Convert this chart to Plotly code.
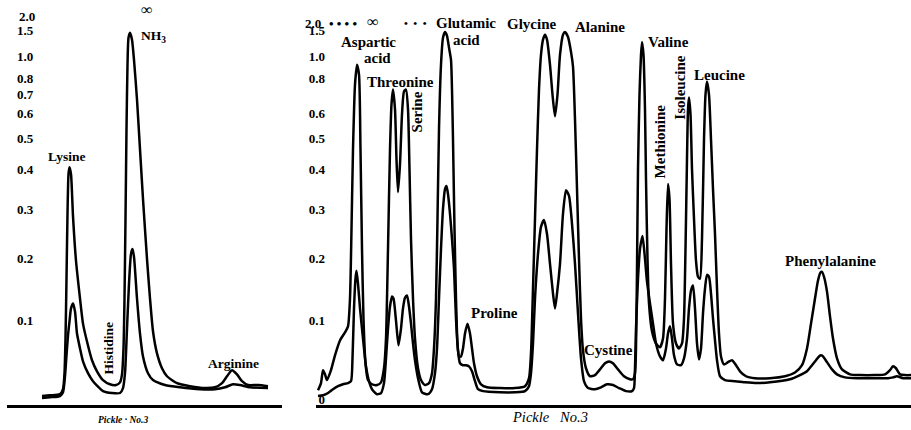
import numpy as np
import plotly.graph_objects as go

# Recorder traces: (elution position, % transmittance)
left_upper = [(42,99.2),(50,99.0),(60,98.7),(63,97.4),(64.5,93.2),(65.5,84.1),(66.5,68.4),(67.5,51.4),(68.5,41.0),(69.5,39.2),(71,41.0),(73,52.0),(76,63.7),(80,73.6),(83,80.2),(87,84.9),(92,89.8),(97,92.7),(103,95.0),(110,96.1),(116,96.3),(120,95.6),(122,93.5),(123.5,86.7),(124.5,73.6),(125.5,52.7),(126.5,29.2),(127.5,12.3),(128.5,5.2),(130,3.9),(132,5.7),(134,11.0),(137,21.4),(140,34.5),(143,47.5),(147,63.2),(150,73.6),(153,82.2),(157,88.0),(162,91.9),(167,94.0),(177,95.8),(190,96.6),(205,97.1),(215,96.9),(222,95.8),(227,94.0),(232,92.4),(237,93.5),(242,95.3),(248,96.3),(258,96.3),(268,96.6)]

left_lower = [(42,99.7),(50,99.5),(60,99.2),(63,98.2),(65,94.0),(66.5,88.5),(68,83.3),(69.5,79.6),(71,76.2),(73,74.9),(75,77.0),(77,82.8),(80,86.7),(83,90.1),(88,93.2),(93,95.3),(103,97.9),(112,98.4),(120,98.4),(123,97.1),(125,93.2),(127,81.5),(129,69.7),(131,61.9),(132.5,60.6),(134,62.7),(137,73.6),(140,82.8),(143,88.8),(148,93.2),(153,95.0),(165,96.3),(180,96.9),(200,97.4),(215,97.4),(225,96.9),(233,96.1),(240,96.3),(250,96.9),(268,97.1)]

right_upper = [(318,97.7),(321,95.8),(323,92.4),(325,93.5),(327,95.0),(331,92.4),(335,88.5),(340,84.6),(345,82.5),(348,80.9),(350,73.6),(351.5,55.4),(353,34.5),(355,17.5),(357,12.3),(359,14.9),(360.5,34.5),(362,60.6),(363.5,78.9),(365.5,90.6),(368,95.0),(372,96.1),(377,96.3),(381,95.6),(384,91.9),(386,84.1),(388,60.6),(390,34.5),(391.5,22.7),(393,18.8),(395,24.0),(396.5,37.1),(398,45.7),(400,38.4),(402,25.3),(404,19.3),(406,18.8),(408,24.0),(409.5,39.7),(411,58.0),(413,73.6),(415,84.1),(418,91.9),(421,95.0),(425,96.3),(429,95.8),(432,93.2),(434,86.7),(436,73.6),(437.5,52.7),(439,29.2),(441,12.3),(443,5.2),(445,3.7),(447,4.7),(449,7.8),(451,11.0),(452,18.8),(453,31.9),(454.5,55.4),(456,73.6),(457.5,85.4),(459,88.8),(461,88.8),(463,86.7),(465,82.8),(467.5,80.2),(470,82.8),(472,86.7),(474,90.6),(477,94.0),(481,96.1),(487,96.9),(500,97.1),(515,97.1),(525,96.6),(529,94.5),(531,88.0),(533,71.0),(535,52.7),(537,34.5),(539,18.8),(541,9.7),(543,5.7),(545,4.4),(547,5.7),(550,12.3),(552.5,20.1),(555,25.8),(557.5,20.1),(560,9.7),(563,4.4),(565,3.7),(568,5.0),(571,8.9),(573,12.8),(575,26.6),(577,44.9),(579,63.2),(581,78.9),(583,87.2),(586,91.9),(590,94.0),(595,93.7),(600,92.2),(605,90.6),(609,90.1),(613,90.6),(618,92.2),(624,94.0),(630,94.8),(633,94.8),(635,93.2),(636,86.7),(637,65.8),(638,39.7),(639.5,20.1),(641,9.7),(642,6.3),(643.5,9.7),(645,24.0),(646,42.3),(647.5,63.2),(649,74.9),(652,82.2),(656,85.4),(660,86.4),(663,84.1),(665,73.6),(666.5,55.4),(668,43.6),(669.5,47.5),(671,64.5),(673,80.2),(676,85.4),(679,86.7),(682,85.4),(684,78.9),(685.5,60.6),(687,37.1),(688,24.0),(689,20.9),(690.5,25.3),(692,39.7),(694,52.7),(696,63.7),(698,67.9),(700,68.4),(702,58.0),(704,31.9),(705.5,20.1),(707,16.7),(709,20.1),(711,31.9),(713,44.9),(715,56.7),(717,71.0),(719,82.8),(721,88.8),(724,90.9),(728,90.3),(732,89.8),(736,91.1),(740,92.7),(746,94.0),(755,94.5),(770,94.5),(785,94.0),(795,93.0),(802,91.1),(807,86.7),(811,80.2),(815,73.6),(818,68.9),(820.5,66.8),(822,66.6),(824,67.9),(827,71.8),(830,78.3),(833,84.1),(837,89.3),(842,92.2),(850,93.5),(860,93.7),(875,93.7),(885,93.5),(890,92.4),(893,91.4),(896,91.9),(900,93.5),(905,93.7),(911,93.7)]

right_lower = [(318,99.2),(323,99.0),(328,98.4),(333,97.4),(338,96.6),(343,96.1),(348,95.8),(351,95.3),(352.5,89.3),(354,76.2),(355.5,68.4),(356.5,66.3),(358,69.7),(360,76.2),(362,81.5),(364,86.7),(366,91.4),(369,95.3),(372,97.4),(377,98.7),(381,98.4),(384,95.8),(386,89.3),(388,81.5),(390,75.7),(392,73.1),(393.5,73.6),(396,79.4),(398.5,85.9),(401,81.5),(403,76.2),(405,73.4),(407,72.8),(409,75.7),(411,80.2),(413,85.4),(415,89.8),(418,94.5),(422,98.2),(428,98.7),(432,97.4),(435,93.2),(437,86.7),(439,73.6),(441,60.6),(443,50.1),(445,44.9),(446.5,44.1),(448,46.2),(450,51.4),(452,58.0),(454,65.8),(456,78.9),(458,87.2),(460,90.6),(463,91.1),(466,91.1),(469,91.4),(472,92.7),(475,95.3),(478,97.4),(483,97.9),(500,98.2),(515,98.2),(525,97.9),(529,96.6),(531,93.2),(533,85.4),(535,73.6),(538,61.9),(541,54.8),(544,53.0),(547,56.7),(550,64.5),(553,72.3),(555,76.2),(557,72.3),(560,64.5),(563,51.4),(566,45.2),(569,46.7),(572,54.0),(575,64.5),(578,77.5),(581,89.3),(584,95.3),(588,97.1),(595,97.4),(601,96.9),(607,96.1),(613,96.3),(619,97.1),(626,97.9),(632,97.9),(634,97.1),(635,91.9),(636,81.5),(638,68.4),(640,60.6),(642.5,57.2),(645,63.2),(647,69.2),(650,74.9),(653,80.2),(656,85.4),(660,88.8),(663,89.8),(666,86.7),(668,82.8),(670,80.9),(672,84.1),(674,88.5),(677,90.9),(681,91.1),(684,89.3),(687,84.1),(689,76.2),(691,71.5),(693,70.2),(695,76.2),(697,85.4),(699,89.6),(701,86.7),(703,77.5),(705,71.0),(707,67.4),(709,67.9),(711,72.3),(713,78.9),(715,84.6),(717,89.8),(720,94.0),(725,95.0),(735,95.3),(745,95.6),(757,95.8),(770,95.6),(790,94.8),(800,93.7),(807,92.7),(812,91.1),(816,89.8),(819,88.8),(821,88.5),(823,88.8),(827,90.3),(832,92.2),(837,93.5),(845,94.3),(857,94.5),(875,94.5),(888,94.5),(893,94.3),(897,94.0),(903,94.5),(911,94.5)]

# Optical-density tick labels (recorder scale is linear in transmittance)
left_od_ticks = [0.1, 0.2, 0.3, 0.4, 0.5, 0.6, 0.7, 0.8, 1.0, 1.5]
right_od_ticks = [0, 0.1, 0.2, 0.3, 0.4, 0.5, 0.6, 0.8, 1.0, 1.5]
top_od_label = "2.0"

# Peak labels: (text, elution position, % transmittance, angle)
left_labels = [("Lysine", 67, 36.3, 0), ("NH<sub>3</sub>", 153, 5.0, 0),
               ("Histidine", 108, 86.7, -90), ("Arginine", 233, 90.6, 0)]
right_labels = [("Aspartic", 368, 6.3, 0), ("acid", 377, 10.6, 0),
                ("Threonine", 400, 16.7, 0), ("Serine", 417, 24.8, -90),
                ("Glutamic", 466, 1.4, 0), ("acid", 466, 5.7, 0),
                ("Glycine", 532, 1.6, 0), ("Alanine", 600, 2.4, 0),
                ("Valine", 668, 6.3, 0), ("Methionine", 660, 32.4, -90),
                ("Isoleucine", 680, 18.3, -90), ("Leucine", 719, 14.9, 0),
                ("Proline", 494, 77.5, 0), ("Cystine", 608, 87.2, 0),
                ("Phenylalanine", 830, 63.7, 0)]

W, H = 911, 430
SERIF = "Liberation Serif, DejaVu Serif, serif"
LINE = dict(color="black", width=2.5, shape="spline", smoothing=0.6)

fig = go.Figure()
for data, xa, ya in [(left_upper, "x", "y"), (left_lower, "x", "y"),
                     (right_upper, "x2", "y2"), (right_lower, "x2", "y2")]:
    xs, ts = zip(*data)
    fig.add_trace(go.Scatter(x=xs, y=ts, mode="lines", line=LINE,
                             xaxis=xa, yaxis=ya, hoverinfo="skip"))

def od_to_t(a):
    return 100 * 10 ** (-np.asarray(a, dtype=float))

def fmt(a):
    return "0" if a == 0 else f"{a:.1f}"

y_rng = [101.57, -4.7]
y_dom = [23 / H, 1]
tickfont = dict(family=SERIF, size=13, color="black", weight="bold")

fig.update_layout(
    width=W, height=H, margin=dict(l=0, r=0, t=0, b=0),
    paper_bgcolor="white", plot_bgcolor="white", showlegend=False,
    xaxis=dict(domain=[7 / W, 282 / W], range=[7, 282], anchor="y",
               showline=True, linecolor="black", linewidth=2.5,
               showticklabels=False, ticks="", showgrid=False, zeroline=False),
    yaxis=dict(domain=y_dom, range=y_rng, anchor="x",
               tickvals=od_to_t(left_od_ticks), ticktext=[fmt(a) for a in left_od_ticks],
               ticklabelposition="inside", ticklabelstandoff=7, ticks="",
               showline=False, showgrid=False, zeroline=False, tickfont=tickfont),
    xaxis2=dict(domain=[316 / W, 1], range=[316, 911], anchor="y2",
                showline=True, linecolor="black", linewidth=2.5,
                showticklabels=False, ticks="", showgrid=False, zeroline=False),
    yaxis2=dict(domain=y_dom, range=y_rng, anchor="x2",
                tickvals=od_to_t(right_od_ticks), ticktext=[fmt(a) for a in right_od_ticks],
                ticklabelposition="outside", ticklabelstandoff=-10, ticks="",
                showline=False, showgrid=False, zeroline=False, tickfont=tickfont),
)

ann = []
for text, x, t, ang in left_labels:
    ann.append(dict(text=text, x=x, y=t, xref="x", yref="y", showarrow=False,
                    textangle=ang, xanchor="center", yanchor="middle",
                    font=dict(family=SERIF, size=13.5, color="black", weight="bold")))
for text, x, t, ang in right_labels:
    ann.append(dict(text=text, x=x, y=t, xref="x2", yref="y2", showarrow=False,
                    textangle=ang, xanchor="center", yanchor="middle",
                    font=dict(family=SERIF, size=15, color="black", weight="bold")))

top = dict(color="black", weight="bold")
# top-of-scale labels (2.0) and infinity marks
ann.append(dict(text=top_od_label, x=17, y=-0.5, xref="x", yref="y", showarrow=False,
                xanchor="left", yanchor="middle", font=dict(family=SERIF, size=13, **top)))
ann.append(dict(text=top_od_label, x=323, y=1.4, xref="x2", yref="y2", showarrow=False,
                xanchor="right", yanchor="middle", font=dict(family=SERIF, size=13, **top)))
ann.append(dict(text="∞", x=146, y=-2.1, xref="x", yref="y", showarrow=False,
                xanchor="center", yanchor="middle", font=dict(family=SERIF, size=16, **top)))
ann.append(dict(text="• • • •", x=343, y=1.4, xref="x2", yref="y2", showarrow=False,
                xanchor="center", yanchor="middle", font=dict(family=SERIF, size=13, **top)))
ann.append(dict(text="∞", x=372, y=1.0, xref="x2", yref="y2", showarrow=False,
                xanchor="center", yanchor="middle", font=dict(family=SERIF, size=16, **top)))
ann.append(dict(text="•  •  •", x=415, y=1.4, xref="x2", yref="y2", showarrow=False,
                xanchor="center", yanchor="middle", font=dict(family=SERIF, size=11, **top)))
# sample captions
ann.append(dict(text="<i>Pickle · No.3</i>", x=123 / W, y=1 - 422 / H, xref="paper", yref="paper",
                xanchor="center", yanchor="middle", showarrow=False,
                font=dict(family=SERIF, size=9.5, color="black", weight="bold")))
ann.append(dict(text="<i>Pickle   No.3</i>", x=550 / W, y=1 - 419 / H, xref="paper", yref="paper",
                xanchor="center", yanchor="middle", showarrow=False,
                font=dict(family=SERIF, size=14.5, color="black")))
fig.update_layout(annotations=ann)

fig.write_html("out.html")
